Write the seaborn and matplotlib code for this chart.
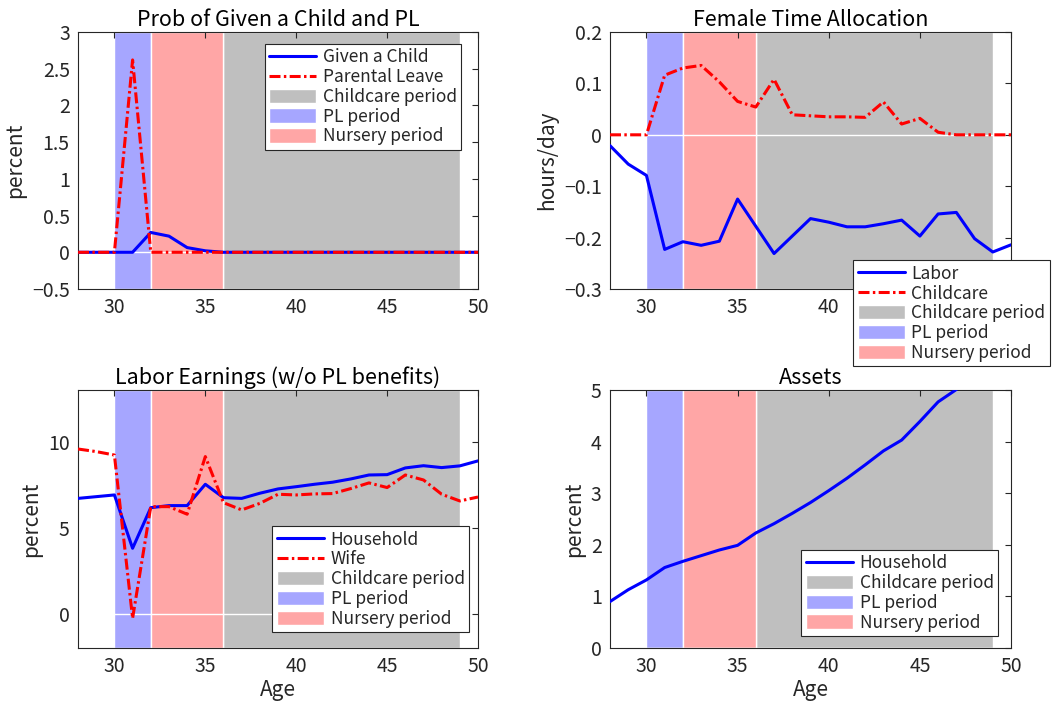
import matplotlib
matplotlib.use("Agg")
import matplotlib.pyplot as plt
import numpy as np
import pandas as pd
import seaborn as sns
from matplotlib.ticker import FuncFormatter

sns.set_style("white")
plt.rcParams['font.family'] = ['Noto Sans CJK JP', 'DejaVu Sans']
plt.rcParams['axes.unicode_minus'] = True

# 数据 (年龄 28-50)
age = list(range(28, 51))

child_prob = [0, 0, 0, 0, 0.27, 0.22, 0.064, 0.02, 0, 0, 0, 0, 0, 0, 0, 0, 0, 0, 0, 0, 0, 0, 0]
pl_prob = [0, 0, 0, 2.62, 0, 0, 0, 0, 0, 0, 0, 0, 0, 0, 0, 0, 0, 0, 0, 0, 0, 0, 0]

labor_time = [-0.021, -0.057, -0.079, -0.223, -0.208, -0.215, -0.207, -0.125, -0.178, -0.231,
              -0.197, -0.163, -0.170, -0.179, -0.179, -0.173, -0.166, -0.197, -0.154, -0.151,
              -0.202, -0.228, -0.214]
childcare_time = [0, 0, 0, 0.116, 0.130, 0.135, 0.103, 0.065, 0.054, 0.108, 0.039, 0.037, 0.035,
                  0.035, 0.034, 0.064, 0.021, 0.032, 0.005, 0, 0, 0, 0]

earn_household = [6.7, 6.8, 6.9, 3.8, 6.16, 6.28, 6.28, 7.52, 6.74, 6.7, 7.0, 7.25, 7.38, 7.52,
                  7.64, 7.83, 8.06, 8.08, 8.47, 8.6, 8.49, 8.59, 8.88]
earn_wife = [9.57, 9.42, 9.22, -0.27, 6.22, 6.22, 5.78, 9.13, 6.45, 6.03, 6.41, 6.94, 6.9, 6.96,
             6.98, 7.27, 7.6, 7.33, 8.06, 7.77, 6.94, 6.55, 6.78]

asset_age = list(range(28, 49))
assets = [0.9, 1.13, 1.32, 1.56, 1.68, 1.79, 1.9, 1.99, 2.23, 2.41, 2.61, 2.82, 3.05, 3.29,
          3.55, 3.82, 4.03, 4.39, 4.77, 5.01, 5.45]

# 各阶段 (年龄区间)
periods = [("Childcare period", 36, 49, (0.75, 0.75, 0.75)),
           ("PL period", 30, 32, (0.65, 0.65, 1.0)),
           ("Nursery period", 32, 36, (1.0, 0.65, 0.65))]

fmt = FuncFormatter(lambda v, p: f"{v:g}".replace("-", "\u2212"))


def shade(ax):
    handles = []
    for name, a, b, c in periods:
        h = ax.axvspan(a, b, facecolor=c, edgecolor="white", linewidth=1.0, label=name, zorder=0)
        handles.append(h)
    ax.hlines(0, 30, 49, colors="white", linewidth=1.0, zorder=0.5)
    return handles


def finish(ax, title, ylabel, ylim, yticks, xlabel=""):
    ax.set_xlim(28, 50)
    ax.set_ylim(*ylim)
    ax.set_xticks([30, 35, 40, 45, 50])
    ax.set_yticks(yticks)
    ax.yaxis.set_major_formatter(fmt)
    ax.tick_params(direction="in", top=True, right=True, length=4, labelsize=14,
                   color="#262626", labelcolor="#262626", pad=6)
    for s in ax.spines.values():
        s.set_color("#262626")
        s.set_linewidth(0.8)
    ax.set_title(title, fontsize=15.5, pad=4, color="black")
    ax.set_ylabel(ylabel, fontsize=15, color="#262626")
    ax.set_xlabel(xlabel, fontsize=15, color="#262626", labelpad=1)


def draw(ax, x, y, color, dashed, label):
    df = pd.DataFrame({"x": x, "y": y})
    sns.lineplot(data=df, x="x", y="y", ax=ax, color=color, linewidth=2.2,
                 label=label, legend=False, zorder=3)
    ln = ax.lines[-1]
    if dashed:
        ln.set_dashes((3.6, 1.1, 0.8, 1.1))
    return ln


def legend(ax, handles, loc, anchor):
    lg = ax.legend(handles=handles, loc=loc, bbox_to_anchor=anchor, borderaxespad=0,
                   fontsize=12.5, frameon=True, fancybox=False, edgecolor="#262626",
                   framealpha=1, handlelength=2.7, handleheight=0.9, labelspacing=0.1,
                   borderpad=0.25, handletextpad=0.4)
    lg.get_frame().set_linewidth(0.8)
    lg.set_zorder(10)


fig = plt.figure(figsize=(10.59, 7.04), dpi=100)
ax1 = fig.add_axes([0.0737, 0.5895, 0.3777, 0.365])
ax2 = fig.add_axes([0.576, 0.5895, 0.3787, 0.365])
ax3 = fig.add_axes([0.0737, 0.0795, 0.3777, 0.3665])
ax4 = fig.add_axes([0.576, 0.0795, 0.3787, 0.3665])

# 子图1
p = shade(ax1)
l1 = draw(ax1, age, child_prob, "blue", False, "Given a Child")
l2 = draw(ax1, age, pl_prob, "red", True, "Parental Leave")
finish(ax1, "Prob of Given a Child and PL", "percent", (-0.5, 3),
       [-0.5, 0, 0.5, 1, 1.5, 2, 2.5, 3])
legend(ax1, [l1, l2] + p, "upper right", (0.958, 0.953))

# 子图2
p = shade(ax2)
l1 = draw(ax2, age, labor_time, "blue", False, "Labor")
l2 = draw(ax2, age, childcare_time, "red", True, "Childcare")
finish(ax2, "Female Time Allocation", "hours/day", (-0.3, 0.2),
       [-0.3, -0.2, -0.1, 0, 0.1, 0.2])
legend(ax2, [l1, l2] + p, "lower right", (1.097, -0.30))

# 子图3
p = shade(ax3)
l1 = draw(ax3, age, earn_household, "blue", False, "Household")
l2 = draw(ax3, age, earn_wife, "red", True, "Wife")
finish(ax3, "Labor Earnings (w/o PL benefits)", "percent", (-2, 13), [0, 5, 10], "Age")
legend(ax3, [l1, l2] + p, "lower right", (0.9775, 0.062))

# 子图4
p = shade(ax4)
l1 = draw(ax4, asset_age, assets, "blue", False, "Household")
finish(ax4, "Assets", "percent", (0, 5), [0, 1, 2, 3, 4, 5], "Age")
legend(ax4, [l1] + p, "lower right", (0.9676, 0.0465))

fig.savefig("out.png", dpi=100)
